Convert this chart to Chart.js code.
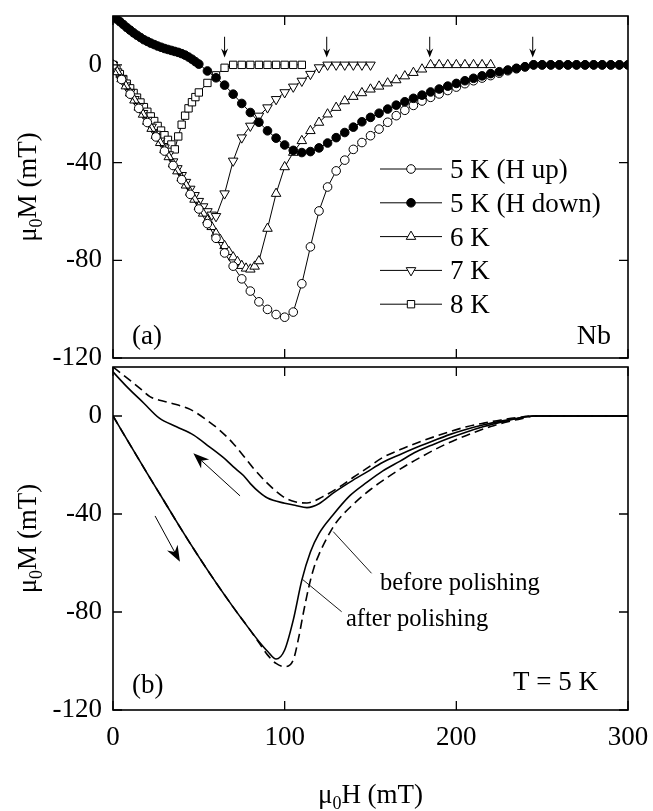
<!DOCTYPE html>
<html>
<head>
<meta charset="utf-8">
<script src="https://cdn.jsdelivr.net/npm/chart.js@4.4.0/dist/chart.umd.min.js"></script>
<style>
html, body { margin: 0; padding: 0; background: #fff; }
#wrap { position: relative; width: 653px; height: 811px; }
#wrap canvas { position: absolute; left: 0; top: 0; }
</style>
</head>
<body>
<div id="wrap">
<canvas id="topChart" width="653" height="811"></canvas>
<canvas id="bottomChart" width="653" height="811"></canvas>
</div>
<script>
const FONT = '"Liberation Serif", "Times New Roman", serif';

// panel (a): Nb magnetisation loops, mu0H (mT) vs mu0M (mT)
const up5H = [0,5,10,15,20,25,30,35,40,45,50,55,60,65,70,75,80,85,90,95,100,105,110,115,120,125,130,135,140,145,150,155,160,165,170,175,180,185,190,195,200,205,210,215,220,225,230,235,240,245,250,255,260,265,270,275,280,285,290,295,300];
const up5M = [0,-6,-12,-17.8,-23.6,-29.5,-35.3,-41.2,-47,-53,-59,-65,-71,-77,-82.4,-87.6,-92.6,-97,-100.1,-102.2,-103.3,-101.2,-89.6,-74.5,-59.8,-50,-43.4,-39,-34.6,-31.8,-29,-26.3,-23.5,-20.8,-18.6,-16.6,-14.8,-13.3,-11.9,-10.5,-9.1,-7.7,-6.5,-5.4,-4.4,-3.4,-2.4,-1.6,-0.8,0,0,0,0,0,0,0,0,0,0,0,0];

const down5H = [0,2,4,6,8,10,12,14,16,18,20,22,24,26,28,30,32,34,36,38,40,42,44,46,48,50,55,60,65,70,75,80,85,90,95,100,105,110,115,120,125,130,135,140,145,150,155,160,165,170,175,180,185,190,195,200,205,210,215,220,225,230,235,240,245,250,255,260,265,270,275,280,285,290,295,300];
const down5M = [20,18.8,17.7,16.5,15.3,14.2,13.1,12.1,11.2,10.3,9.6,8.9,8.3,7.7,7.2,6.7,6.3,5.9,5.5,5.1,4.6,4.0,3.2,2.3,1.3,0.3,-2.5,-5.3,-8.3,-12,-15.8,-19.5,-23.5,-27,-30,-32.8,-35,-35.9,-35.5,-34,-32,-29.8,-27.7,-25.5,-23.3,-21.5,-19.8,-18.1,-16.5,-15.1,-13.7,-12.4,-11.1,-9.9,-8.7,-7.6,-6.5,-5.5,-4.5,-3.6,-2.8,-2.1,-1.4,-0.8,0,0,0,0,0,0,0,0,0,0,0,0];

const h6 = [0,2.5,5,7.5,10,12.5,15,17.5,20,22.5,25,27.5,30,32.5,35,37.5,40,42.5,45,47.5,50,52.5,55,57.5,60,62.5,65,67.5,70,72.5,75,77.5,80,82.5,85,90,95,100,105,110,115,120,125,130,135,140,145,150,155,160,165,170,175,180,185,190,195,200,205,210,215,220];
const m6 = [0,-2.9,-5.8,-8.7,-11.6,-14.5,-17.4,-20.3,-23.2,-26.1,-29,-31.9,-34.8,-37.7,-40.6,-43.5,-46.4,-49.3,-52.2,-55.1,-58,-60.8,-63.6,-66.3,-69,-71.6,-74.1,-76.5,-78.7,-80.6,-82.2,-83.3,-83.7,-82.5,-80.3,-67,-52.7,-41.8,-35.9,-31.1,-27,-23.6,-20.2,-17.5,-14.8,-13,-11.5,-10,-8.8,-7.5,-6.2,-4.6,-3.2,-1.8,0,0,0,0,0,0,0,0];

const h7 = [0,2.5,5,7.5,10,12.5,15,17.5,20,22.5,25,27.5,30,32.5,35,37.5,40,42.5,45,47.5,50,52.5,55,57.5,60,65,70,75,80,85,90,95,100,105,110,115,120,125,130,135,140,145,150];
const m7 = [0,-2.8,-5.7,-8.5,-11.3,-14.1,-17,-19.8,-22.6,-25.4,-28.3,-31.1,-33.9,-36.7,-39.6,-42.4,-45.2,-48,-50.8,-53.4,-55.8,-58,-60,-61.4,-62,-52.7,-39.3,-29.8,-25,-20.9,-17.5,-14.1,-11.3,-9,-6.6,-3.8,-1.1,0,0,0,0,0,0];

const h8 = [0,2,4,6,8,10,12,14,16,18,20,22,24,26,28,30,32,34,36,38,40,42,44,46,48,50,55,60,65,70,75,80,85,90,95,100,105,110];
const m8 = [0,-1.9,-3.8,-5.8,-7.7,-9.6,-11.5,-13.4,-15.4,-17.3,-19.2,-21.1,-23,-25,-26.9,-28.8,-30.7,-32.6,-34.6,-29.3,-24.5,-20.8,-17.8,-15.3,-13.2,-11.3,-7.4,-4.3,-1.2,0,0,0,0,0,0,0,0,0];

// field where each curve reaches zero (little arrows)
const arrowH = [65, 124.5, 184.5, 244.5];

// panel (b): 5 K, before / after polishing
const afterUpH = [0,10,20,30,40,50,60,70,80,85,90,95,100,105,110,115,120,128,138,148,157,167,177,187,196,206,216,226,235,245,260,280,300];
const afterUpM = [0,-11.8,-23.5,-35,-46.5,-57.5,-68,-78,-87.5,-92,-96,-99.2,-95.5,-83.3,-67,-55.5,-48,-40.5,-32.5,-27,-22.5,-18.5,-14.5,-11.5,-9,-6.5,-4.3,-2.5,-1.1,0,0,0,0];
const afterDownH = [0,8,18,27,37,47,56,66,70,76,80,85,90,100,106,113,120,128,138,148,157,167,177,187,196,206,216,226,235,245,260,280,300];
const afterDownM = [18,12,5.2,-0.9,-4.4,-7.8,-12.5,-18,-20.7,-24.3,-27.6,-31,-33.5,-35.6,-36.4,-37.4,-35.8,-31.6,-27,-22.8,-19,-15.8,-12.8,-10,-7.6,-5.4,-3.6,-2.1,-1,0,0,0,0];
const beforeUpH = [0,10,20,30,40,50,60,70,80,85,90,95,100,105,108,111,114,117,120,125,130,140,150,160,170,180,190,200,210,220,230,240,245,260,280,300];
const beforeUpM = [0,-11.8,-23.5,-35,-46.5,-57.5,-68,-78,-87.5,-92.5,-97.5,-101,-102.3,-99.6,-91,-80,-70,-62,-56.5,-49.3,-43.5,-36,-30,-25,-20.5,-16.5,-12.8,-9.6,-6.8,-4.3,-2.3,-0.8,0,0,0,0];
const beforeDownH = [0,6,15.7,21.5,32,45,54.5,62,70,78,82,90,99,106,113,122,132,140,148,157,167,177,187,196,206,216,226,235,245,260,280,300];
const beforeDownM = [20,16.7,11.3,7.9,5.6,2.7,-1.6,-5.7,-11.2,-18,-21.5,-27.5,-32.9,-35,-35.5,-33,-28.9,-25,-21.3,-17,-13.8,-11,-8.5,-6.4,-4.4,-2.9,-1.6,-0.7,0,0,0,0];

Chart.defaults.font.family = FONT;
Chart.defaults.color = '#000';

function pts(xs, ys) {
    return xs.map(function (x, i) { return { x: x, y: ys[i] }; });
}

function markerSet(label, xs, ys, style, radius, fill, rotation, order) {
    return {
        label: label,
        data: pts(xs, ys),
        showLine: true,
        borderColor: "#000",
        borderWidth: 1,
        pointStyle: style,
        pointRadius: radius,
        pointHoverRadius: radius,
        pointRotation: rotation,
        pointBackgroundColor: fill,
        pointBorderColor: "#000",
        pointBorderWidth: 1,
        order: order
    };
}

function lineSet(xs, ys, dashed) {
    return {
        data: pts(xs, ys),
        showLine: true,
        borderColor: "#000",
        borderWidth: 1.6,
        borderDash: dashed ? [9, 5] : [],
        pointRadius: 0,
        cubicInterpolationMode: "monotone"
    };
}

function panelOptions(padTop, showX) {
    return {
        responsive: false,
        animation: false,
        events: [],
        layout: { padding: { top: padTop, bottom: showX ? 0 : 453, left: 0, right: 25 } },
        plugins: { legend: { display: false }, tooltip: { enabled: false } },
        scales: {
            x: {
                type: "linear", min: 0, max: 300,
                grid: { display: false, drawTicks: false },
                border: { display: false },
                ticks: {
                    stepSize: 20, autoSkip: false, display: showX, padding: 12, maxRotation: 0,
                    font: { size: 27 },
                    callback: function (v) { return v % 100 === 0 ? v : null; }
                },
                afterFit: function (s) {
                    s.height = showX ? 101 : 0;
                    s.paddingLeft = 0;
                    s.paddingRight = 0;
                }
            },
            y: {
                type: "linear", min: -120, max: 20,
                grid: { display: false, drawTicks: false },
                border: { display: false },
                ticks: {
                    stepSize: 10, autoSkip: false, padding: 11,
                    font: { size: 27 },
                    callback: function (v) { return v % 40 === 0 ? v : null; }
                },
                afterFit: function (s) {
                    s.width = 113;
                    s.paddingTop = 0;
                    s.paddingBottom = 0;
                }
            }
        }
    };
}

function drawFrame(chart) {
    const ctx = chart.ctx;
    const a = chart.chartArea;
    const xs = chart.scales.x;
    const ys = chart.scales.y;
    ctx.save();
    ctx.strokeStyle = "#000";
    ctx.lineWidth = 1.6;
    ctx.strokeRect(a.left, a.top, a.right - a.left, a.bottom - a.top);
    ctx.lineWidth = 1.3;
    ctx.beginPath();
    xs.ticks.forEach(function (t) {
        const px = xs.getPixelForValue(t.value);
        const len = t.value % 100 === 0 ? 9 : 5;
        ctx.moveTo(px, a.bottom); ctx.lineTo(px, a.bottom - len);
        ctx.moveTo(px, a.top); ctx.lineTo(px, a.top + len);
    });
    ys.ticks.forEach(function (t) {
        const py = ys.getPixelForValue(t.value);
        ctx.moveTo(a.left, py); ctx.lineTo(a.left + 9, py);
        ctx.moveTo(a.right, py); ctx.lineTo(a.right - 9, py);
    });
    ctx.stroke();
    ctx.restore();
}

// mu0X (mT) with a real subscript zero
function drawMuTitle(ctx, letter, cx, cy, vertical) {
    const big = "27px " + FONT;
    const small = "18px " + FONT;
    ctx.save();
    ctx.font = big;
    const w1 = ctx.measureText("\u03bc").width;
    const w3 = ctx.measureText(letter + " (mT)").width;
    ctx.font = small;
    const w2 = ctx.measureText("0").width;
    ctx.translate(cx, cy);
    if (vertical) ctx.rotate(-Math.PI / 2);
    ctx.fillStyle = "#000";
    ctx.textAlign = "left";
    ctx.textBaseline = "alphabetic";
    let x = -(w1 + w2 + w3) / 2;
    ctx.font = big; ctx.fillText("\u03bc", x, 0); x += w1;
    ctx.font = small; ctx.fillText("0", x, 6); x += w2;
    ctx.font = big; ctx.fillText(letter + " (mT)", x, 0);
    ctx.restore();
}

function drawText(ctx, text, x, y, size, align) {
    ctx.save();
    ctx.fillStyle = "#000";
    ctx.font = size + "px " + FONT;
    ctx.textAlign = align || "left";
    ctx.textBaseline = "alphabetic";
    ctx.fillText(text, x, y);
    ctx.restore();
}

function bigArrow(ctx, x1, y1, x2, y2) {
    const ang = Math.atan2(y2 - y1, x2 - x1);
    const len = 16, half = 6, notch = 11;
    ctx.save();
    ctx.strokeStyle = "#000";
    ctx.fillStyle = "#000";
    ctx.lineWidth = 1;
    ctx.beginPath();
    ctx.moveTo(x1, y1);
    ctx.lineTo(x2 - Math.cos(ang) * notch, y2 - Math.sin(ang) * notch);
    ctx.stroke();
    ctx.translate(x2, y2);
    ctx.rotate(ang);
    ctx.beginPath();
    ctx.moveTo(0, 0);
    ctx.lineTo(-len, -half);
    ctx.lineTo(-notch, 0);
    ctx.lineTo(-len, half);
    ctx.closePath();
    ctx.fill();
    ctx.restore();
}

const topDecor = {
    id: "topDecor",
    afterDatasetsDraw: function (chart) {
        const ctx = chart.ctx;
        const a = chart.chartArea;
        const xs = chart.scales.x;
        const ys = chart.scales.y;
        drawFrame(chart);

        // small arrows marking where each curve reaches zero
        ctx.save();
        ctx.strokeStyle = "#000";
        ctx.fillStyle = "#000";
        ctx.lineWidth = 1;
        arrowH.forEach(function (h) {
            const px = xs.getPixelForValue(h);
            const y0 = ys.getPixelForValue(11.5);
            const y1 = ys.getPixelForValue(3);
            ctx.beginPath();
            ctx.moveTo(px, y0); ctx.lineTo(px, y1 - 4);
            ctx.stroke();
            ctx.beginPath();
            ctx.moveTo(px, y1);
            ctx.lineTo(px - 3.5, y1 - 9);
            ctx.lineTo(px, y1 - 6);
            ctx.lineTo(px + 3.5, y1 - 9);
            ctx.closePath();
            ctx.fill();
        });
        ctx.restore();

        // legend
        const lx = 380, lw = 62, ly = 169, gap = 33.8;
        chart.data.datasets.forEach(function (ds, i) {
            const y = ly + i * gap;
            ctx.save();
            ctx.strokeStyle = "#000";
            ctx.lineWidth = 1;
            ctx.beginPath();
            ctx.moveTo(lx, y); ctx.lineTo(lx + lw, y);
            ctx.stroke();
            ctx.fillStyle = ds.pointBackgroundColor;
            Chart.helpers.drawPoint(ctx, {
                pointStyle: ds.pointStyle,
                rotation: ds.pointRotation || 0,
                radius: ds.pointRadius,
                borderWidth: 1
            }, lx + lw / 2, y);
            ctx.restore();
            drawText(ctx, ds.label, lx + 70, y + 9, 27);
        });

        drawText(ctx, "(a)", a.left + 19, a.bottom - 14, 27);
        drawText(ctx, "Nb", a.right - 17, a.bottom - 14, 28, "right");
        drawMuTitle(ctx, "M", 36, (a.top + a.bottom) / 2, true);
    }
};

const bottomDecor = {
    id: "bottomDecor",
    afterDatasetsDraw: function (chart) {
        const ctx = chart.ctx;
        const a = chart.chartArea;
        const xs = chart.scales.x;
        const ys = chart.scales.y;
        const X = function (v) { return xs.getPixelForValue(v); };
        const Y = function (v) { return ys.getPixelForValue(v); };
        drawFrame(chart);

        bigArrow(ctx, X(74), Y(-32.6), X(46.8), Y(-15.2));
        bigArrow(ctx, X(24.5), Y(-40.8), X(39), Y(-59.5));

        ctx.save();
        ctx.strokeStyle = "#000";
        ctx.lineWidth = 0.9;
        ctx.beginPath();
        ctx.moveTo(X(150.6), Y(-64.2)); ctx.lineTo(X(128.3), Y(-47.2));
        ctx.moveTo(X(133.2), Y(-79.9)); ctx.lineTo(X(110.4), Y(-66.7));
        ctx.stroke();
        ctx.restore();

        drawText(ctx, "before polishing", X(155.5), Y(-71), 24.5);
        drawText(ctx, "after polishing", X(135.7), Y(-85.7), 24.5);
        drawText(ctx, "(b)", a.left + 19, a.bottom - 17, 27);
        drawText(ctx, "T = 5 K", a.right - 30, a.bottom - 20, 27, "right");

        drawMuTitle(ctx, "M", 36, (a.top + a.bottom) / 2, true);
        drawMuTitle(ctx, "H", (a.left + a.right) / 2, 803, false);
    }
};

new Chart(document.getElementById("topChart"), {
    type: "scatter",
    data: {
        datasets: [
            markerSet("5 K (H up)", up5H, up5M, "circle", 4.3, "#fff", 0, 1),
            markerSet("5 K (H down)", down5H, down5M, "circle", 4.3, "#000", 0, 0),
            markerSet("6 K", h6, m6, "triangle", 5.5, "#fff", 0, 2),
            markerSet("7 K", h7, m7, "triangle", 5.5, "#fff", 180, 3),
            markerSet("8 K", h8, m8, "rect", 5.2, "#fff", 0, 4)
        ]
    },
    options: panelOptions(16, false),
    plugins: [topDecor]
});

new Chart(document.getElementById("bottomChart"), {
    type: "scatter",
    data: {
        datasets: [
            lineSet(afterUpH, afterUpM, false),
            lineSet(afterDownH, afterDownM, false),
            lineSet(beforeUpH, beforeUpM, true),
            lineSet(beforeDownH, beforeDownM, true)
        ]
    },
    options: panelOptions(367, true),
    plugins: [bottomDecor]
});
</script>
</body>
</html>
